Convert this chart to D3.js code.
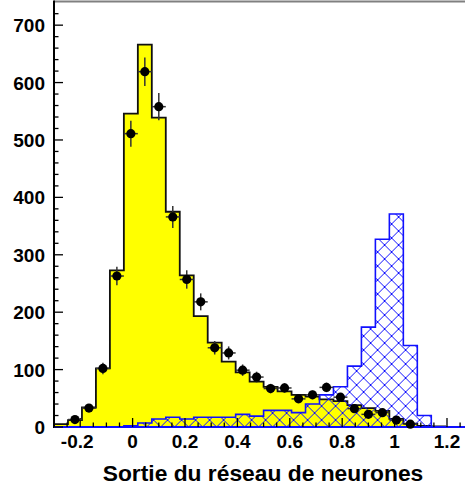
<!DOCTYPE html>
<html>
<head>
<meta charset="utf-8">
<script src="https://cdn.jsdelivr.net/npm/d3@7"></script>
<style>
  html, body { margin: 0; padding: 0; background: #fff; }
  svg { display: block; font-family: "Liberation Sans", Arial, Helvetica, sans-serif; }
</style>
</head>
<body>
<svg id="chart" width="465" height="489"></svg>
<script>
// Histogram binning: 30 bins from -0.3 to 1.3
const binLow = -0.3;
const binHigh = 1.3;
const nBins = 30;

// Background (yellow) expected distribution, per bin
const backgroundCounts = [5, 12, 34, 102, 273, 546, 666, 539, 375, 264,
                          193, 147, 114, 95, 79, 70, 62, 56, 53, 48,
                          45, 38, 33, 28, 14, 6, 2, 1, 0, 0];

// Signal (blue hatched) distribution, per bin
const signalCounts = [0, 0, 0, 0, 0, 2, 7, 14, 17, 14,
                      17, 17, 17, 22, 19, 29, 29, 25, 40, 56,
                      70, 106, 174, 327, 371, 142, 20, 0, 0, 0];

// Observed data, per bin (null = no entry drawn)
const dataCounts = [null, 13, 33, 102, 263, 511, 619, 558, 366, 257,
                    218, 138, 129, 99, 87, 67, 68, 49, 56, 69,
                    52, 32, 22, 25, 12, 5, null, null, null, null];

const xTickValues = [-0.2, 0, 0.2, 0.4, 0.6, 0.8, 1, 1.2];
const xTickLabels = ["-0.2", "0", "0.2", "0.4", "0.6", "0.8", "1", "1.2"];
const yTickValues = [0, 100, 200, 300, 400, 500, 600, 700];
const xTitle = "Sortie du réseau de neurones";

const svg = d3.select("#chart");

const x = d3.scaleLinear().domain([binLow, binHigh]).range([54, 473.2]);
const y = d3.scaleLinear().domain([0, 740]).range([427, 2.2]);

const binWidth = (binHigh - binLow) / nBins;
const edge = i => binLow + i * binWidth;

function stepPoints(counts) {
  const pts = [[edge(0), 0]];
  counts.forEach((c, i) => {
    pts.push([edge(i), c]);
    pts.push([edge(i + 1), c]);
  });
  pts.push([edge(nBins), 0]);
  return pts;
}
const line = d3.line().x(d => x(d[0])).y(d => y(d[1]));

// Hatch pattern for the signal histogram
const defs = svg.append("defs");
const pat = defs.append("pattern")
  .attr("id", "hatch")
  .attr("patternUnits", "userSpaceOnUse")
  .attr("width", 14).attr("height", 14)
  .attr("x", x(0)).attr("y", y(0));
pat.append("path").attr("d", "M0,0L14,14M14,0L0,14M-1,13L1,15M13,-1L15,1M-1,1L1,-1M13,15L15,13")
  .attr("stroke", "#1010ff").attr("stroke-width", 1).attr("fill", "none");

const plot = svg.append("g");

// Background histogram
plot.append("path")
  .attr("d", line(stepPoints(backgroundCounts)) + "Z")
  .attr("fill", "#ffff00")
  .attr("stroke", "none");
plot.append("path")
  .attr("d", line(stepPoints(backgroundCounts)))
  .attr("fill", "none")
  .attr("stroke", "#111")
  .attr("stroke-width", 1.8);

// Signal histogram
plot.append("path")
  .attr("d", line(stepPoints(signalCounts)) + "Z")
  .attr("fill", "url(#hatch)")
  .attr("stroke", "none");
plot.append("path")
  .attr("d", line(stepPoints(signalCounts)))
  .attr("fill", "none")
  .attr("stroke", "#1010ff")
  .attr("stroke-width", 1.6);

// Axes frame
svg.append("line")
  .attr("x1", x(binLow)).attr("x2", 465).attr("y1", 1.5).attr("y2", 1.5)
  .attr("stroke", "#808080").attr("stroke-width", 2);
svg.append("line")
  .attr("x1", x(binLow)).attr("x2", x(binLow)).attr("y1", 0.5).attr("y2", y(0) + 1)
  .attr("stroke", "#000").attr("stroke-width", 2);
svg.append("line")
  .attr("x1", x(binLow)).attr("x2", 465).attr("y1", y(0)).attr("y2", y(0))
  .attr("stroke", "#1010ff").attr("stroke-width", 2);

// X ticks (pointing into the plot)
const xMinor = d3.range(-6, 27).map(k => k * 0.05).filter(v => v >= binLow - 1e-9);
svg.append("g").selectAll("line").data(xMinor).join("line")
  .attr("x1", d => x(d)).attr("x2", d => x(d))
  .attr("y1", y(0))
  .attr("y2", d => y(0) - (xTickValues.some(t => Math.abs(t - d) < 1e-6) ? 9 : 4.5))
  .attr("stroke", "#000").attr("stroke-width", 1.3);

// Y ticks (pointing into the plot)
const yMinor = d3.range(0, 37).map(k => k * 20);
svg.append("g").selectAll("line").data(yMinor).join("line")
  .attr("x1", x(binLow)).attr("y1", d => y(d)).attr("y2", d => y(d))
  .attr("x2", d => x(binLow) + (d % 100 === 0 ? 9 : 4.5))
  .attr("stroke", "#000").attr("stroke-width", 1.3);

// Data points with error bars
const pts = dataCounts.map((c, i) => ({ c, lo: edge(i), hi: edge(i + 1), mid: edge(i + 0.5) }))
  .filter(d => d.c !== null);
const pg = svg.append("g");
pg.selectAll("line.h").data(pts).join("line")
  .attr("x1", d => x(d.lo)).attr("x2", d => x(d.hi))
  .attr("y1", d => y(d.c)).attr("y2", d => y(d.c))
  .attr("stroke", "#333").attr("stroke-width", 1.5);
pg.selectAll("line.v").data(pts).join("line")
  .attr("x1", d => x(d.mid)).attr("x2", d => x(d.mid))
  .attr("y1", d => y(d.c + Math.sqrt(d.c))).attr("y2", d => y(Math.max(0, d.c - Math.sqrt(d.c))))
  .attr("stroke", "#333").attr("stroke-width", 1.5);
pg.selectAll("circle").data(pts).join("circle")
  .attr("cx", d => x(d.mid)).attr("cy", d => y(d.c)).attr("r", 4.6)
  .attr("fill", "#000");

// Tick labels
svg.append("g").selectAll("text").data(yTickValues).join("text")
  .attr("x", 45).attr("y", d => y(d) + 7)
  .attr("text-anchor", "end")
  .attr("font-size", 19).attr("font-weight", "bold")
  .attr("fill", "#000")
  .text(d => d);

svg.append("g").selectAll("text").data(xTickValues).join("text")
  .attr("x", (d, i) => x(d) - (xTickLabels[i].startsWith("-") ? 3 : 0))
  .attr("y", 447.5)
  .attr("text-anchor", "middle")
  .attr("font-size", 19).attr("font-weight", "bold")
  .attr("fill", "#000")
  .text((d, i) => xTickLabels[i]);

svg.append("text")
  .attr("x", 263).attr("y", 481)
  .attr("text-anchor", "middle")
  .attr("font-size", 22.8).attr("font-weight", "bold")
  .attr("fill", "#000")
  .text(xTitle);
</script>
</body>
</html>
